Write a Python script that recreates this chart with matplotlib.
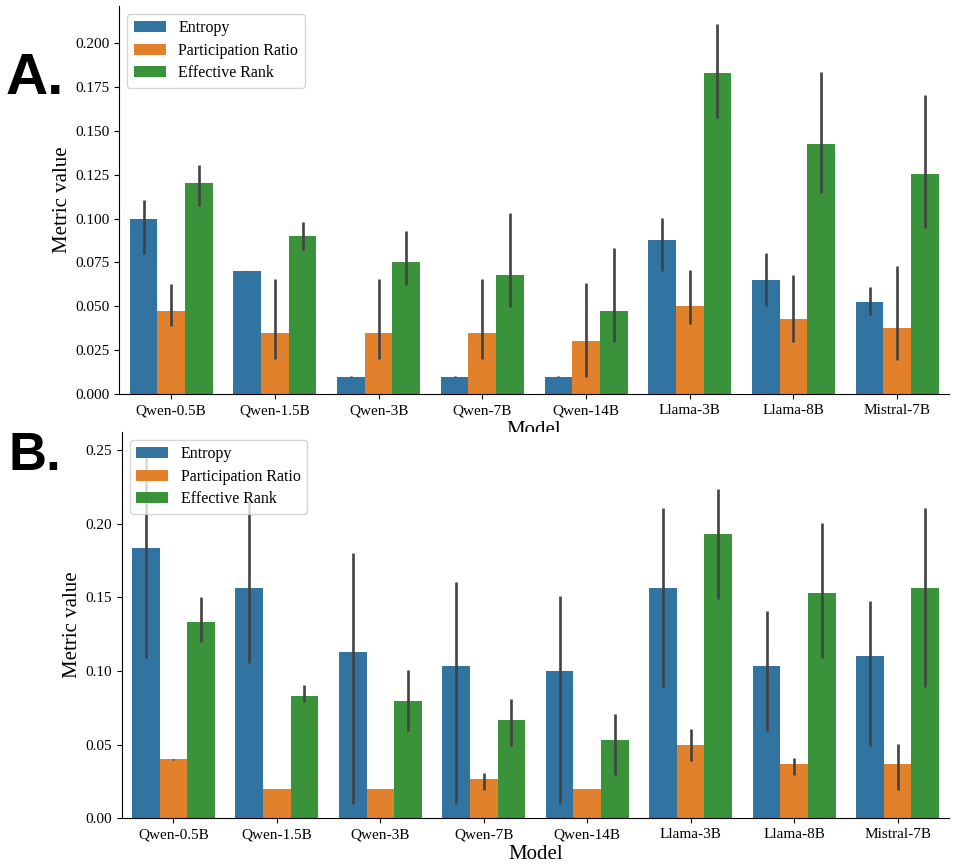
import numpy as np
import matplotlib
matplotlib.use("Agg")
import matplotlib.pyplot as plt

models = ["Qwen-0.5B", "Qwen-1.5B", "Qwen-3B", "Qwen-7B", "Qwen-14B",
          "Llama-3B", "Llama-8B", "Mistral-7B"]
metrics = ["Entropy", "Participation Ratio", "Effective Rank"]

# panel A: means and CI bounds (low, high)
a_entropy = [0.100, 0.070, 0.010, 0.010, 0.010, 0.088, 0.065, 0.0525]
a_entropy_lo = [0.080, 0.0698, 0.0098, 0.0098, 0.0098, 0.070, 0.050, 0.045]
a_entropy_hi = [0.1105, 0.0702, 0.0102, 0.0102, 0.0102, 0.1005, 0.0806, 0.061]
a_pr = [0.0474, 0.035, 0.035, 0.035, 0.0303, 0.0502, 0.0428, 0.0377]
a_pr_lo = [0.039, 0.020, 0.020, 0.020, 0.0097, 0.0398, 0.0296, 0.0195]
a_pr_hi = [0.063, 0.0654, 0.0654, 0.0654, 0.0631, 0.0705, 0.068, 0.0732]
a_er = [0.120, 0.090, 0.075, 0.068, 0.0474, 0.1828, 0.1424, 0.1253]
a_er_lo = [0.107, 0.082, 0.0622, 0.0498, 0.0296, 0.157, 0.1147, 0.0944]
a_er_hi = [0.1306, 0.0982, 0.093, 0.103, 0.083, 0.2105, 0.1832, 0.1704]

# panel B
b_entropy = [0.1835, 0.1561, 0.1129, 0.1034, 0.100, 0.1563, 0.1034, 0.1102]
b_entropy_lo = [0.109, 0.1052, 0.0095, 0.0095, 0.0095, 0.0893, 0.0593, 0.0493]
b_entropy_hi = [0.2454, 0.216, 0.1803, 0.1606, 0.1507, 0.2104, 0.1405, 0.1473]
b_pr = [0.040, 0.020, 0.020, 0.0267, 0.020, 0.0497, 0.0369, 0.0369]
b_pr_lo = [0.0398, 0.0198, 0.0198, 0.0192, 0.0198, 0.0391, 0.0294, 0.0192]
b_pr_hi = [0.0402, 0.0202, 0.0202, 0.0305, 0.0202, 0.0604, 0.0407, 0.0506]
b_er = [0.133, 0.083, 0.0796, 0.0667, 0.0531, 0.193, 0.1529, 0.1563]
b_er_lo = [0.1195, 0.0792, 0.0595, 0.0493, 0.0294, 0.149, 0.109, 0.0893]
b_er_hi = [0.1504, 0.0905, 0.1007, 0.0808, 0.0706, 0.2237, 0.2004, 0.2104]

colors = ["#3274a1", "#e1812c", "#3a923a"]

plt.rcParams["font.family"] = ["Liberation Serif", "DejaVu Serif"]


def draw(ax, series, ylim):
    x = np.arange(len(models))
    w = 0.8 / 3
    for i, (mean, lo, hi) in enumerate(series):
        mean = np.array(mean)
        pos = x - 0.4 + w * (i + 0.5)
        ax.bar(pos, mean, width=w, color=colors[i], label=metrics[i])
        err = [mean - np.array(lo), np.array(hi) - mean]
        ax.errorbar(pos, mean, yerr=err, fmt="none", ecolor="#424242",
                    elinewidth=1.9, capsize=0)
    ax.set_xticks(x)
    ax.set_xticklabels(models, fontsize=11)
    ax.tick_params(axis="y", labelsize=11)
    ax.set_xlim(-0.5, len(models) - 0.5)
    ax.set_ylim(*ylim)
    ax.set_xlabel("Model", fontsize=15, labelpad=3.2)
    ax.set_ylabel("Metric value", fontsize=15, labelpad=2.5)
    ax.spines["top"].set_visible(False)
    ax.spines["right"].set_visible(False)
    ax.legend(loc="upper left", fontsize=11.5, labelspacing=0.4)


fig = plt.figure(figsize=(9.56, 8.66), dpi=100)
ax_a = fig.add_axes([0.1248, 0.5447, 0.8679, 0.4484])
draw(ax_a, [(a_entropy, a_entropy_lo, a_entropy_hi),
            (a_pr, a_pr_lo, a_pr_hi),
            (a_er, a_er_lo, a_er_hi)], (0, 0.2209))
ax_b = fig.add_axes([0.1273, 0.0551, 0.8657, 0.4461])
draw(ax_b, [(b_entropy, b_entropy_lo, b_entropy_hi),
            (b_pr, b_pr_lo, b_pr_hi),
            (b_er, b_er_lo, b_er_hi)], (0, 0.2622))

fig.text(6 / 956, 1 - 94.3 / 866, "A.", fontsize=42, fontweight="bold",
         family="Liberation Sans", va="baseline")
fig.text(8 / 956, 1 - 470 / 866, "B.", fontsize=38, fontweight="bold",
         family="Liberation Sans", va="baseline")

fig.savefig("out.png", dpi=100)
